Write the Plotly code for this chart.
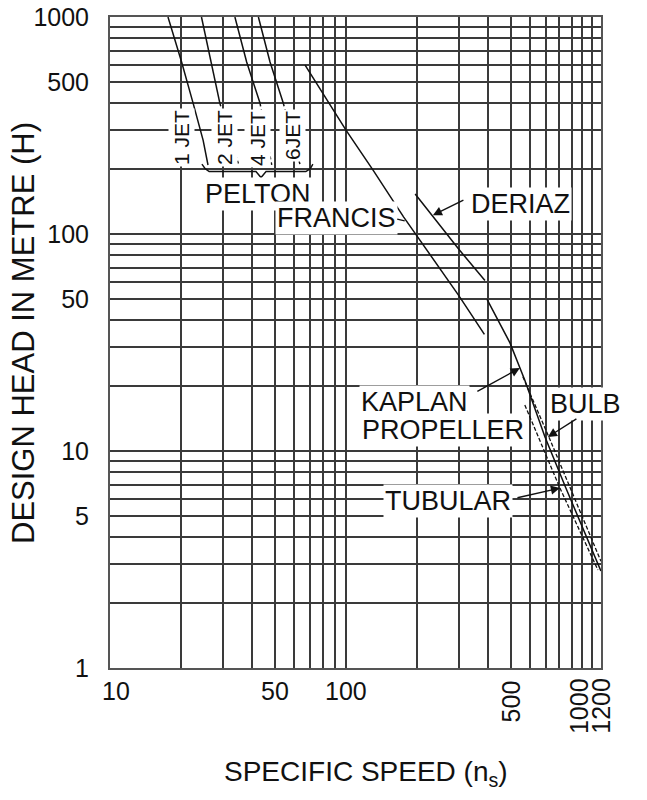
import plotly.graph_objects as go
import math

# ---------------- data ----------------
x_grid = [10, 20, 30, 40, 50, 60, 70, 80, 90, 100, 200, 300, 400, 500, 600, 700, 800, 900, 1000, 1100, 1200]
y_grid = [1, 2, 3, 4, 5, 6, 7, 8, 9, 10, 20, 30, 40, 50, 60, 70, 80, 90, 100,
          200, 300, 400, 500, 600, 700, 800, 900, 1000]
y_tick_labels = [1, 5, 10, 50, 100, 500, 1000]
x_tick_flat = [10, 50, 100]
x_tick_rot = [500, 1000, 1200]

# Pelton jets (solid upper part, dashed lower part)
jet1_x = [17.6, 20.1, 22.5, 24.8, 26.0]
jet1_y = [1000, 620, 400, 270, 208]
jet2_x = [24.4, 26.8, 29.2]
jet2_y = [1000, 620, 400]
jet2_dash_x = [29.2, 35.0]
jet2_dash_y = [400, 210]
jet4_x = [33.8, 37.9, 43.2]
jet4_y = [1000, 620, 400]
jet4_dash_x = [43.2, 48.4]
jet4_dash_y = [400, 208]
jet6_x = [42.5, 47.6, 54.2]
jet6_y = [1000, 620, 400]
jet6_dash_x = [54.2, 63.7]
jet6_dash_y = [400, 210]

# brace under jet labels
brace_x = [24.5, 25.3, 26.3, 41.5, 43.6, 45.8, 67.5, 70.5, 72.3]
brace_y = [210, 200, 194, 194, 182, 194, 194, 200, 210]

francis_x = [67, 100, 130, 175, 300, 385]
francis_y = [600, 300, 197, 120, 52, 34.5]

deriaz_x = [196, 300, 387]
deriaz_y = [153, 85, 61]

kaplan_x = [395, 494, 571, 695, 852, 1199]
kaplan_y = [50, 31.5, 21.2, 11.6, 6.75, 2.8]

bulb_x = [560, 722, 1200]
bulb_y = [22, 11.6, 3.1]

tubular_x = [571, 804, 1164]
tubular_y = [16.3, 6.75, 2.83]

# ---------------- figure ----------------
INK = "#111111"
FONT = "Liberation Sans, Arial, sans-serif"

fig = go.Figure()

def add_line(xs, ys, dash="solid", width=1.5):
    fig.add_trace(go.Scatter(x=xs, y=ys, mode="lines",
                             line=dict(color=INK, width=width, dash=dash),
                             hoverinfo="skip", showlegend=False))

add_line(jet1_x, jet1_y)
add_line(jet2_x, jet2_y)
add_line(jet2_dash_x, jet2_dash_y, dash="3px,3px")
add_line(jet4_x, jet4_y)
add_line(jet4_dash_x, jet4_dash_y, dash="3px,3px")
add_line(jet6_x, jet6_y)
add_line(jet6_dash_x, jet6_dash_y, dash="3px,3px")
add_line(brace_x, brace_y, width=1.4)
add_line(francis_x, francis_y)
add_line(deriaz_x, deriaz_y)
add_line(kaplan_x, kaplan_y)
add_line(bulb_x, bulb_y, dash="4px,2px", width=1.3)
add_line(tubular_x, tubular_y, dash="4px,2px", width=1.3)

ann = []

# page body has an 8px margin; figure placed so the plot area lands at
# screen x 110..601, y 17..668
def px2paper(px, py):
    return (px - 110) / 491.0, (668 - py) / 651.0

def label(text, px, py, size=27, angle=0):
    xp, yp = px2paper(px, py)
    ann.append(dict(text=text, x=xp, y=yp, xref="paper", yref="paper", showarrow=False,
                    textangle=angle, xanchor="center", yanchor="middle",
                    font=dict(family=FONT, size=size, color=INK),
                    bgcolor="white", borderpad=1))

# Pelton jet labels
label("1 JET", 181, 138, size=21, angle=-90)
label("2 JET", 224, 138, size=21, angle=-90)
label("4 JET", 257, 139, size=21, angle=-90)
label("6JET", 293, 136, size=21, angle=-90)

label("PELTON", 258, 194)
label("FRANCIS", 336, 218)
label("DERIAZ", 520, 204)
label("KAPLAN", 414, 402)
label("PROPELLER", 443, 430)
label("BULB", 585, 404)
label("TUBULAR", 448, 501)

def arrow(xv, yv, ax, ay, head=2):
    ann.append(dict(text="", x=math.log10(xv), y=math.log10(yv), xref="x", yref="y",
                    showarrow=True, ax=ax, ay=ay, axref="pixel", ayref="pixel",
                    arrowhead=head, arrowsize=1.3, arrowwidth=1.4, arrowcolor=INK,
                    standoff=0))

arrow(233, 122, 32, -16)          # DERIAZ
arrow(177, 115, -9, -2, head=0)   # FRANCIS leader
arrow(544, 24.1, -44, 24)         # KAPLAN / PROPELLER
arrow(715, 11.6, 30, -19)         # BULB
arrow(804, 6.75, -44, 10)         # TUBULAR

# x tick labels
for v in x_tick_flat:
    ann.append(dict(text=str(v), x=math.log10(v), y=-0.0353, xref="x", yref="paper",
                    showarrow=False, xanchor="center", yanchor="middle",
                    xshift=6 if v == 10 else 0,
                    font=dict(family=FONT, size=25, color=INK)))
for v in x_tick_rot:
    ann.append(dict(text=str(v), x=math.log10(v), y=-0.051 if v == 500 else -0.058,
                    xref="x", yref="paper", textangle=-90,
                    showarrow=False, xanchor="center", yanchor="middle",
                    xshift=-4 if v == 1000 else 0,
                    font=dict(family=FONT, size=25, color=INK)))

# axis titles
xp, yp = px2paper(366, 773)
ann.append(dict(text="SPECIFIC SPEED (n<sub>s</sub>)", x=xp, y=yp, xref="paper", yref="paper",
                showarrow=False, xanchor="center", yanchor="middle",
                font=dict(family=FONT, size=28, color=INK)))
xp, yp = px2paper(23, 333)
ann.append(dict(text="DESIGN HEAD IN METRE (H)", x=xp, y=yp, xref="paper", yref="paper",
                showarrow=False, xanchor="center", yanchor="middle", textangle=-90,
                font=dict(family=FONT, size=31, color=INK)))

y_text = [str(v) if v in y_tick_labels else "" for v in y_grid]

fig.update_layout(
    width=639, height=792,
    margin=dict(l=102, r=46, t=9, b=132, autoexpand=False),
    paper_bgcolor="white", plot_bgcolor="white",
    showlegend=False,
    annotations=ann,
    xaxis=dict(type="log", range=[1, math.log10(1200)], automargin=False,
               tickmode="array", tickvals=x_grid, ticktext=["" for _ in x_grid],
               showgrid=True, gridcolor="#3a3a3a", gridwidth=1.6,
               showline=True, linecolor="#555555", linewidth=2, mirror=True,
               ticks="", zeroline=False, fixedrange=True),
    yaxis=dict(type="log", range=[0, 3], automargin=False,
               tickmode="array", tickvals=y_grid, ticktext=y_text,
               tickfont=dict(family=FONT, size=25, color=INK),
               ticklabelstandoff=14, ticklabeloverflow="allow",
               showgrid=True, gridcolor="#3a3a3a", gridwidth=1.6,
               showline=True, linecolor="#555555", linewidth=2, mirror=True,
               ticks="", zeroline=False, fixedrange=True),
)

fig.write_html("out.html")
